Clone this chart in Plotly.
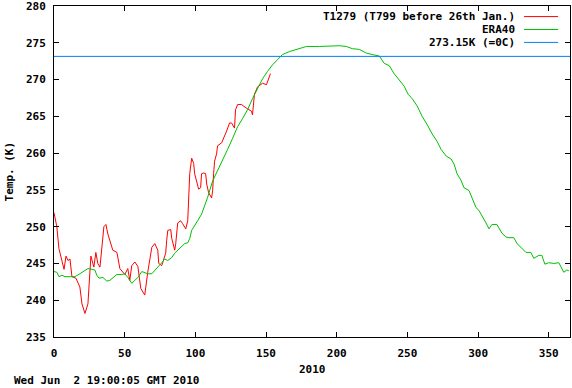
import plotly.graph_objects as go

# T1279 (red) daily Arctic mean temperature, 2010 (day, K)
t1279_day = [0, 2, 3.5, 5.6, 7.1, 8.5, 9.9, 11.3, 12.7, 15.5, 18.3, 19.8, 21.9, 24, 26.1, 28.2,
             29.6, 31, 32.5, 35.3, 36.7, 38.1, 39.5, 41.6, 44.5, 46.6, 50.1, 52.2, 53.6, 55,
             57.2, 59.3, 61.4, 64.2, 66.3, 67.7, 69.2, 71.3, 73.4, 74.1, 76.2, 76.9, 79, 79.7,
             80.5, 82.6, 83.3, 85.4, 86.1, 87.5, 89.6, 91, 93.2, 94.6, 96, 97.4, 98.8, 99.5,
             100.9, 102.3, 103.7, 104.4, 105.9, 107.3, 108, 109.4, 111.5, 112.2, 112.9, 113.6,
             115, 115.7, 118.6, 120.7, 122.1, 124.2, 125.6, 127.7, 128.4, 129.9, 132.7, 136.2,
             139.7, 140.4, 141.8, 144, 147.5, 150.3, 152.4, 153.1]
t1279_temp = [251.9, 250, 247, 245.4, 244.2, 246, 245.4, 245.6, 243.2, 243, 241.8, 239.5, 238.2,
              239.5, 246, 244.5, 246.5, 245, 244.5, 250, 250.3, 249, 248, 246.8, 246.5, 244.3,
              243.5, 244.3, 242.7, 244.7, 245.2, 244.6, 241.6, 240.7, 243.8, 245.8, 247.2, 247.7,
              246.8, 245, 244.7, 245.1, 246.4, 248.1, 249.5, 249.6, 248.4, 246.8, 247.7, 250.5,
              250.8, 250.4, 249.7, 250.8, 257.2, 259.3, 258.6, 257.2, 256, 255.1, 255.3, 257.2,
              257.3, 257.2, 255.8, 254.6, 253.9, 254.9, 257.2, 258.9, 259.9, 261, 261.4, 262.3,
              263, 264.1, 264.1, 263.4, 265.9, 266.6, 266.6, 266.1, 265.7, 265.2, 268, 269, 269.5,
              269.3, 270.7, 270.8]

# ERA40 climatology (green)
era40_day = [0, 2, 3.5, 5.6, 7.8, 11.3, 14.8, 18.3, 21.9, 24, 26.8, 28.9, 30.3, 31.8, 34.6, 37.4,
             39.5, 41.6, 44.5, 48, 50.1, 52.2, 55, 57.2, 59.3, 62.1, 64.2, 66.3, 69.2, 71.3, 73.4,
             76.2, 78.3, 80.5, 83.3, 85.4, 87.5, 90.3, 92.4, 94.6, 96, 97.4, 99.5, 101.6, 104.4,
             106.6, 108.7, 112.2, 115.7, 119.3, 122.8, 126.3, 129.9, 133.4, 136.9, 140.4, 144,
             147.5, 151, 154.6, 158.1, 161.6, 166.5, 171.5, 178.5, 187.7, 194.8, 201.8, 206.8,
             211, 216, 220.9, 225.1, 230.1, 233.6, 237.1, 240.6, 244.2, 247.7, 250.5, 253.4,
             256.9, 260.4, 263.9, 267.5, 271, 273.8, 277.4, 280.9, 283, 285.1, 287.9, 290, 293.6,
             295.7, 298.5, 300.6, 302.8, 305.6, 307.7, 309.8, 313.3, 316.9, 319.7, 321.8, 325.3,
             327.5, 330.3, 333.8, 337.3, 339.4, 343, 345.1, 347.2, 350, 353.6, 357.1, 360.6,
             362.7, 364.2]
era40_temp = [243.9, 243.8, 243.2, 243.4, 243.2, 243.2, 243.2, 243.6, 244, 244.3, 244.2, 244.1,
              243.4, 243, 243.1, 242.6, 242.7, 243, 243.5, 243.5, 243.6, 243.1, 242.3, 242.7,
              243.1, 243.9, 243.8, 243.6, 243.6, 244, 244.5, 245.1, 245.6, 245.4, 245.8, 246.4,
              246.8, 247.2, 247.7, 247.8, 248.4, 249.5, 250.1, 250.8, 251.7, 252.8, 254, 256.2,
              257.6, 258.9, 260.5, 262, 263.6, 264.7, 265.9, 267.4, 268.8, 270.1, 271.1, 272,
              272.7, 273.4, 273.8, 274.1, 274.5, 274.5, 274.6, 274.6, 274.5, 274.2, 274.1, 273.6,
              273.4, 273.2, 272.2, 271.9, 270.8, 270, 269.1, 268, 267.4, 266.4, 265, 263.9, 262.6,
              261.6, 260.5, 259.6, 259.2, 258.5, 257.2, 256.3, 255.3, 254.9, 253.9, 252.6, 252.2,
              251.5, 250.5, 249.7, 250.3, 250.3, 249.1, 248.6, 248.5, 248.5, 247.7, 247.2, 246.5,
              246.5, 245.7, 246.1, 246.1, 244.9, 245.1, 245, 245.1, 243.8, 244.1, 244]

freeze_x = [0, 365]
freeze_temp = [273.15, 273.15]

legend_names = ["T1279 (T799 before 26th Jan.)", "ERA40", "273.15K (=0C)"]
colors = ["#ff0000", "#00c000", "#0080ff"]

x_ticks = [0, 50, 100, 150, 200, 250, 300, 350]
y_ticks = [235, 240, 245, 250, 255, 260, 265, 270, 275, 280]

FONT = dict(family="DejaVu Sans Mono", size=11, color="black", weight="bold")

fig = go.Figure()
fig.add_trace(go.Scatter(x=t1279_day, y=t1279_temp, mode="lines",
                         line=dict(color=colors[0], width=1), name=legend_names[0]))
fig.add_trace(go.Scatter(x=era40_day, y=era40_temp, mode="lines",
                         line=dict(color=colors[1], width=1), name=legend_names[1]))
fig.add_trace(go.Scatter(x=freeze_x, y=freeze_temp, mode="lines",
                         line=dict(color=colors[2], width=1), name=legend_names[2]))

axis_common = dict(showline=True, linecolor="black", linewidth=1, mirror="ticks",
                   ticks="inside", ticklen=5, tickcolor="black", tickwidth=1,
                   showgrid=False, zeroline=False, tickfont=FONT, automargin=False,
                   ticklabeloverflow="allow")

fig.update_xaxes(range=[0, 365], tickvals=x_ticks, ticktext=[str(v) for v in x_ticks],
                 ticklabelstandoff=6, **axis_common)
fig.update_yaxes(range=[235, 280], tickvals=y_ticks, ticktext=[str(v) for v in y_ticks],
                 ticklabelstandoff=5, **axis_common)

annotations = []
shapes = []
row_y = [0.968, 0.929, 0.890]
for name, col, yy in zip(legend_names, colors, row_y):
    annotations.append(dict(text=name, xref="paper", yref="paper", x=0.897, y=yy,
                            xanchor="right", yanchor="middle", showarrow=False, font=FONT))
    shapes.append(dict(type="line", xref="paper", yref="paper", x0=0.911, x1=0.977,
                       y0=yy, y1=yy, line=dict(color=col, width=1)))

annotations.append(dict(text="Temp. (K)", xref="paper", yref="paper", x=-0.0853, y=0.5,
                        textangle=-90, xanchor="center", yanchor="middle", showarrow=False,
                        font=FONT))
annotations.append(dict(text="2010", xref="paper", yref="paper", x=0.5, y=-0.099,
                        xanchor="center", yanchor="middle", showarrow=False, font=FONT))
annotations.append(dict(text="Wed Jun&nbsp; 2 19:00:05 GMT 2010",
                        xref="paper", yref="paper", x=-0.0814, y=-0.132,
                        xanchor="left", yanchor="middle", showarrow=False, font=FONT))

fig.update_layout(width=572, height=388, margin=dict(l=54, r=2, t=6, b=51),
                  plot_bgcolor="white", paper_bgcolor="white", showlegend=False,
                  annotations=annotations, shapes=shapes, font=FONT)

fig.write_html("out.html", post_script="document.body.style.margin='0';",
               config={"displayModeBar": False})
